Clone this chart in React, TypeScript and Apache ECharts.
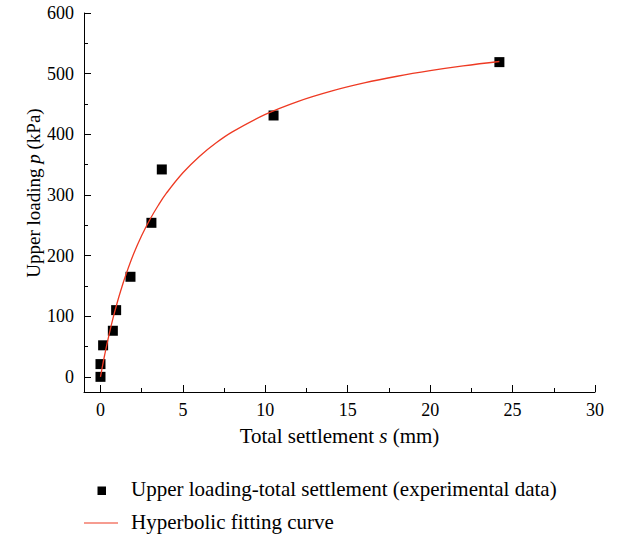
import React, { useEffect, useRef } from "react";
import * as echarts from "echarts";

const FONT = "Liberation Serif";

const xMajorTicks = [0, 5, 10, 15, 20, 25, 30];
const xMinorTicks = [2.5, 7.5, 12.5, 17.5, 22.5, 27.5];
const yMajorTicks = [0, 100, 200, 300, 400, 500, 600];
const yMinorTicks = [50, 150, 250, 350, 450, 550];

// experimental data: total settlement s (mm), upper loading p (kPa)
const expSettlement = [0, 0, 0.16, 0.75, 0.95, 1.82, 3.09, 3.72, 10.5, 24.2];
const expLoading = [0, 21, 52, 76, 110, 165, 254, 342, 431, 519];

// hyperbolic fitting curve
const fitSettlement = [0, 0.1, 0.25, 0.5, 0.75, 1, 1.25, 1.5, 2, 2.5, 3, 3.5, 4, 5, 6, 7, 8, 10, 12, 14, 16, 18, 20, 22, 24.2];
const fitLoading = [0, 14.8, 35.6, 67.2, 95.6, 121, 144, 165, 202, 233, 259.5, 282.6, 302.8, 336.5, 363.4, 385.5, 403.9, 432.7, 454.4, 471.2, 484.7, 495.7, 504.9, 512.7, 520];

const legendNames = ["Upper loading-total settlement (experimental data)", "Hyperbolic fitting curve"];

export default function App() {
  const ref = useRef<HTMLDivElement>(null);
  useEffect(() => {
    if (!ref.current) return;
    const chart = echarts.init(ref.current, null, { renderer: "svg" });
    const labelStyle = { color: "#000", fontFamily: FONT, fontSize: 18 };
    const minorAxisCommon = {
      type: "value" as const,
      axisLine: { show: false, onZero: false },
      axisLabel: { show: false },
      splitLine: { show: false },
    };
    chart.setOption({
      animation: false,
      backgroundColor: "#fff",
      grid: { left: 84, right: 30, top: 13, bottom: 148, containLabel: false },
      xAxis: [
        {
          type: "value",
          min: -1,
          max: 30,
          position: "bottom",
          axisLine: { show: true, onZero: false, lineStyle: { color: "#000", width: 1 } },
          axisTick: { show: true, inside: true, length: 7, customValues: xMajorTicks, lineStyle: { color: "#000" } },
          axisLabel: { ...labelStyle, margin: 9, customValues: xMajorTicks },
          splitLine: { show: false },
          name: "Total settlement {i|s} (mm)",
          nameLocation: "middle",
          nameGap: 33,
          nameTextStyle: {
            color: "#000",
            fontFamily: FONT,
            fontSize: 21,
            rich: { i: { fontStyle: "italic", fontFamily: FONT, fontSize: 21, color: "#000" } },
          },
        },
        {
          ...minorAxisCommon,
          min: -1,
          max: 30,
          position: "bottom",
          axisTick: { show: true, inside: true, length: 4, customValues: xMinorTicks, lineStyle: { color: "#000" } },
        },
      ],
      yAxis: [
        {
          type: "value",
          min: -25,
          max: 600,
          position: "left",
          axisLine: { show: true, onZero: false, lineStyle: { color: "#000", width: 1 } },
          axisTick: { show: true, inside: true, length: 7, customValues: yMajorTicks, lineStyle: { color: "#000" } },
          axisLabel: { ...labelStyle, margin: 10, customValues: yMajorTicks },
          splitLine: { show: false },
        },
        {
          ...minorAxisCommon,
          min: -25,
          max: 600,
          position: "left",
          axisTick: { show: true, inside: true, length: 4, customValues: yMinorTicks, lineStyle: { color: "#000" } },
        },
      ],
      graphic: [
        {
          type: "text",
          x: 33,
          y: 193,
          rotation: Math.PI / 2,
          style: {
            text: "Upper loading {i|p} (kPa)",
            align: "center",
            verticalAlign: "middle",
            fill: "#000",
            font: `19px "${FONT}"`,
            rich: { i: { fontStyle: "italic", fontFamily: FONT, fontSize: 19, fill: "#000" } },
          },
        },
        { type: "rect", shape: { x: 97.5, y: 486.5, width: 8.5, height: 8.5 }, style: { fill: "#000" } },
        {
          type: "text",
          x: 131,
          y: 489,
          style: { text: legendNames[0], fill: "#000", font: `21px "${FONT}"`, verticalAlign: "middle" },
        },
        { type: "line", shape: { x1: 84, y1: 523, x2: 118, y2: 523 }, style: { stroke: "#ee3a23", lineWidth: 1.2 } },
        {
          type: "text",
          x: 131,
          y: 522,
          style: { text: legendNames[1], fill: "#000", font: `21px "${FONT}"`, verticalAlign: "middle" },
        },
      ],
      series: [
        {
          name: legendNames[0],
          type: "scatter",
          xAxisIndex: 0,
          yAxisIndex: 0,
          symbol: "rect",
          symbolSize: 10,
          itemStyle: { color: "#000", opacity: 1 },
          z: 2,
          data: expSettlement.map((s, i) => [s, expLoading[i]]),
        },
        {
          name: legendNames[1],
          type: "line",
          xAxisIndex: 0,
          yAxisIndex: 0,
          showSymbol: false,
          smooth: 0.4,
          lineStyle: { color: "#ee3a23", width: 1.3 },
          z: 3,
          data: fitSettlement.map((s, i) => [s, fitLoading[i]]),
        },
      ],
    });
    return () => chart.dispose();
  }, []);
  return <div ref={ref} style={{ position: "fixed", left: 0, top: 0, width: 625, height: 540 }} />;
}
